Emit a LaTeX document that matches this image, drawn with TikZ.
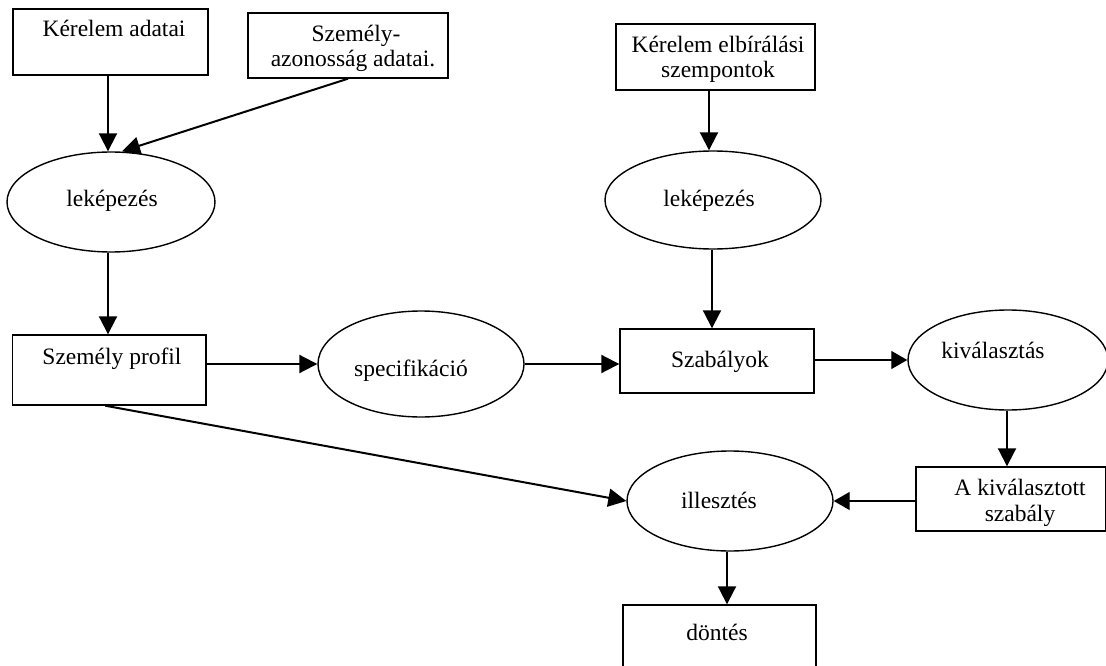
\documentclass[tikz,border=0pt]{standalone}
\usepackage{fontspec}
\setmainfont{Liberation Serif}
\usetikzlibrary{arrows.meta,calc,shapes.geometric}

\tikzset{
  boxnode/.style={draw, line width=1.4pt, rectangle, inner sep=0pt},
  ellnode/.style={draw, line width=1.4pt, ellipse, inner sep=0pt},
  txt/.style={font=\fontsize{23.5}{26}\selectfont, anchor=base, inner sep=0pt},
  flow/.style={line width=2pt, -{Triangle[length=18pt,width=18pt]}},
  thinflow/.style={line width=1.3pt, -{Triangle[length=16pt,width=18pt]}},
}

% rectangle given by its corners: name, x1, y1, x2, y2
\newcommand{\boxat}[5]{%
  \node[boxnode, minimum width={#4-#2}, minimum height={#5-#3}]
    (#1) at ({(#2+#4)/2},{(#3+#5)/2}) {};}
% ellipse given by centre and radii: name, cx, cy, rx, ry
\newcommand{\ellat}[5]{%
  \node[ellnode, minimum width={2*#4}, minimum height={2*#5}]
    (#1) at (#2,#3) {};}

\begin{document}
\begin{tikzpicture}[x=1pt,y=-1pt]
\useasboundingbox (0,0) rectangle (1106,666);
\clip (0,0) rectangle (1106,666);

% boxes
\boxat{ka}{13}{9}{208}{75}
\boxat{sza}{248}{13}{448}{78}
\boxat{kes}{616}{24}{815}{90}
\boxat{sp}{12.5}{335}{206}{405}
\boxat{szab}{620}{329}{814}{393}
\boxat{aks}{916}{467}{1106}{531}
\boxat{dont}{623}{605}{816}{690}

% ellipses
\ellat{lk1}{111}{202}{104}{50}
\ellat{lk2}{713}{200}{108}{49}
\ellat{spec}{421}{364}{103}{53}
\ellat{kiv}{1008}{360}{100}{50}
\ellat{ill}{730}{501}{103}{50}

% texts
\node[txt] (t-ka)  at (114,37)  {Kérelem adatai};
\node[txt] (t-sza1) at (356,42) {Személy-};
\node[txt] (t-sza2) at (353,67) {azonosság adatai.};
\node[txt] (t-kes1) at (718,53) {Kérelem elbírálási};
\node[txt] (t-kes2) at (718,78) {szempontok};
\node[txt] (t-lk1) at (112,207) {leképezés};
\node[txt] (t-lk2) at (709,207) {leképezés};
\node[txt] (t-sp)  at (112,364) {Személy profil};
\node[txt] (t-spec) at (411,376) {specifikáció};
\node[txt] (t-szab) at (720,367) {Szabályok};
\node[txt] (t-kiv) at (993,358) {kiválasztás};
\node[txt] (t-aks1) at (1020,495) {A kiválasztott};
\node[txt] (t-aks2) at (1020,521) {szabály};
\node[txt] (t-ill) at (719,508) {illesztés};
\node[txt] (t-dont) at (717,640) {döntés};

% connectors
\draw[flow] ($(ka.south)+(-2.5,0)$) -- ($(ka.south |- lk1.north)+(-2.5,0)$);
\draw[flow] (sza.south) -- ($(lk1.north)+(11,0)$);
\draw[flow] ($(lk1.south)+(-3,0)$) -- ($(lk1.south |- sp.north)+(-3,0)$);
\draw[flow] ($(kes.south)+(-6.5,0)$) -- ($(kes.south |- lk2.north)+(-6.5,0)$);
\draw[flow] ($(lk2.south)+(-1,0)$) -- ($(lk2.south |- szab.north)+(-1,0)$);
\draw[flow] (sp.east |- spec.west) -- (spec.west);
\draw[flow] (spec.east) -- (spec.east -| szab.west);
\draw[thinflow] (szab.east |- kiv.west) -- (kiv.west);
\draw[flow] ($(kiv.south)+(-1,0)$) -- ($(kiv.south |- aks.north)+(-1,0)$);
\draw[thinflow] (ill.east -| aks.west) -- (ill.east);
\draw[flow] ($(sp.south)+(-4,0)$) -- (ill.west);
\draw[flow] ($(ill.south)+(-3,0)$) -- ($(ill.south |- dont.north)+(-3,0)$);
\end{tikzpicture}
\end{document}
